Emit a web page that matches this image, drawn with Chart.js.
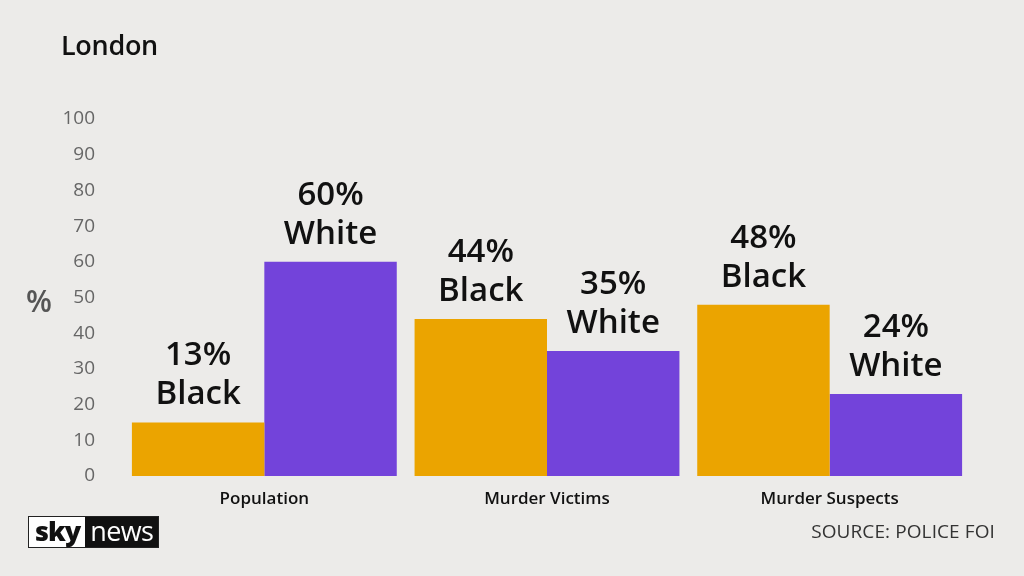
<!DOCTYPE html>
<html>
<head>
<meta charset="utf-8">
<script src="https://cdn.jsdelivr.net/npm/chart.js@4.4.1/dist/chart.umd.min.js"></script>
<style>
  html, body { margin: 0; padding: 0; }
  body { width: 1024px; height: 576px; background: #ecebe9; position: relative; overflow: hidden; font-family: "Open Sans", "Noto Sans", sans-serif; }
  #wrap { position: absolute; left: 0; top: 0; width: 1024px; height: 576px; }
  .title { position: absolute; left: 61px; top: 26px; font-size: 27px; color: #111; font-weight: 600; letter-spacing: -0.3px; }
  .pct { position: absolute; left: 26px; top: 280px; font-size: 30px; color: #555; font-weight: 600; }
  .source { position: absolute; right: 29px; top: 518px; font-size: 19px; color: #333; letter-spacing: 0.1px; }
  .logo { position: absolute; left: 28px; top: 516px; height: 32px; display: flex; border: 1px solid #222; box-sizing: border-box; }
  .logo .sky { background: #fff; color: #111; font-weight: 800; font-size: 27px; line-height: 28px; padding: 0 5px 0 6px; letter-spacing: -1px; }
  .logo .news { background: #111; color: #fff; font-size: 27px; line-height: 28px; padding: 0 5px 0 5px; letter-spacing: -0.6px; }
</style>
</head>
<body>
<div id="wrap"><canvas id="c" width="1024" height="576"></canvas></div>
<div class="title">London</div>
<div class="pct">%</div>
<div class="logo"><span class="sky">sky</span><span class="news">news</span></div>
<div class="source">SOURCE: POLICE FOI</div>
<script>
const categories = ["Population", "Murder Victims", "Murder Suspects"];
const blackValues = [15, 44, 48];
const whiteValues = [60, 35, 23];
const blackLabels = ["13%", "44%", "48%"];
const whiteLabels = ["60%", "35%", "24%"];
const seriesNames = ["Black", "White"];
const yTicks = [0, 10, 20, 30, 40, 50, 60, 70, 80, 90, 100];

const labelPlugin = {
  id: 'barLabels',
  afterDatasetsDraw(chart) {
    const ctx = chart.ctx;
    ctx.save();
    ctx.fillStyle = '#111';
    ctx.textAlign = 'center';
    ctx.textBaseline = 'alphabetic';
    ctx.font = '600 33px "Open Sans", "Noto Sans", sans-serif';
    chart.data.datasets.forEach((ds, di) => {
      const meta = chart.getDatasetMeta(di);
      const texts = di === 0 ? blackLabels : whiteLabels;
      meta.data.forEach((bar, i) => {
        const x = bar.x;
        const top = bar.y;
        ctx.fillText(seriesNames[di], x, top - 18);
        ctx.fillText(texts[i], x, top - 57);
      });
    });
    ctx.restore();
  }
};

new Chart(document.getElementById('c'), {
  type: 'bar',
  data: {
    labels: categories,
    datasets: [
      { label: seriesNames[0], data: blackValues, backgroundColor: '#eba400', borderWidth: 0 },
      { label: seriesNames[1], data: whiteValues, backgroundColor: '#7343da', borderWidth: 0 }
    ]
  },
  options: {
    responsive: false,
    animation: false,
    devicePixelRatio: 1,
    layout: { padding: { left: 0, right: 53, top: 119, bottom: 0 } },
    plugins: { legend: { display: false }, tooltip: { enabled: false }, title: { display: false } },
    datasets: { bar: { barPercentage: 1.0, categoryPercentage: 0.937 } },
    scales: {
      x: {
        grid: { display: false, drawTicks: false },
        border: { display: false },
        ticks: { color: '#111', font: { family: '"Open Sans", "Noto Sans", sans-serif', size: 17, weight: 600 }, padding: 13 },
        afterFit(scale) { scale.height = 100; }
      },
      y: {
        min: 0, max: 100,
        grid: { display: false, drawTicks: false },
        border: { display: false },
        afterBuildTicks(scale) { scale.ticks = yTicks.map(v => ({ value: v })); },
        ticks: { color: '#666', font: { family: '"Open Sans", "Noto Sans", sans-serif', size: 19 }, padding: 28 },
        afterFit(scale) { scale.width = 123; }
      }
    }
  },
  plugins: [labelPlugin]
});
</script>
</body>
</html>
